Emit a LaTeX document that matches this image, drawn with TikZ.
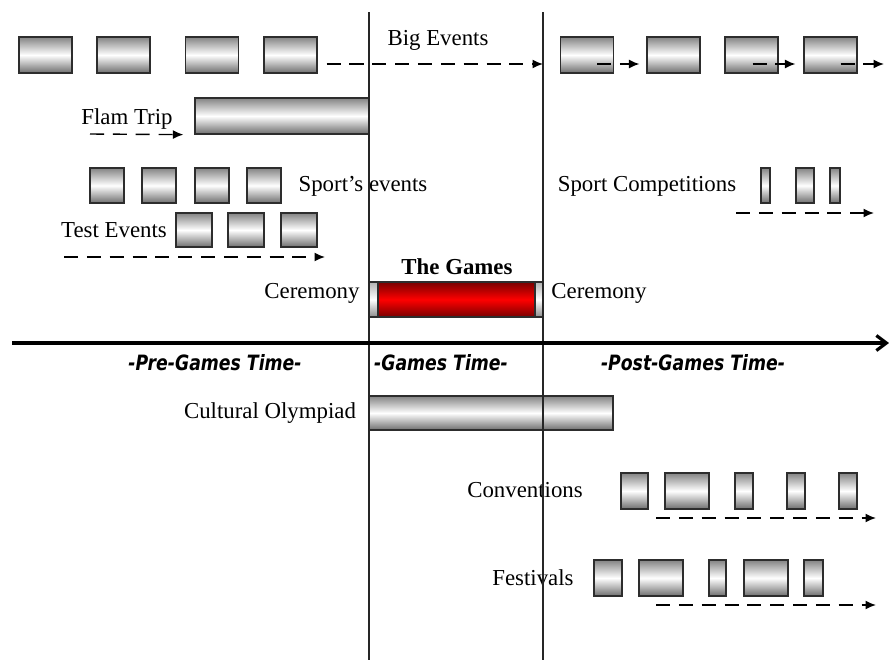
\documentclass[tikz,border=0pt]{standalone}
\usepackage{fontspec}
\setmainfont{Liberation Serif}
\newfontfamily\timefont[FakeStretch=0.82]{DejaVu Sans}
\usetikzlibrary{arrows.meta,calc}
\usepackage{xcolor}
\definecolor{boxEdge}{RGB}{45,45,45}
\definecolor{boxDark}{RGB}{110,110,110}
\definecolor{gameRed}{RGB}{255,0,0}
\definecolor{gameDark}{RGB}{120,0,0}
\newcommand\pxu{0.02cm}
\tikzset{
    every node/.append style={align=center},
    evt/.style={rectangle,draw=boxEdge,line width=0.7pt,inner sep=0pt,
        minimum width=53*\pxu,minimum height=36*\pxu,
        top color=boxDark!85,bottom color=boxDark,middle color=white},
    games/.style={evt,draw=boxEdge,top color=gameDark,bottom color=gameDark,middle color=gameRed},
    lbl/.style={font=\fontsize{13}{15}\selectfont,inner sep=1pt},
    period/.style={font=\timefont\bfseries\itshape\fontsize{12}{14}\selectfont,inner sep=1pt},
    darr/.style={-{Latex[length=2.1mm,width=1.8mm]},line width=0.8pt,dash pattern=on 8pt off 5pt},
    axis/.style={-{Straight Barb[length=2mm,width=3mm]},line width=1.8pt},
    divider/.style={line width=0.8pt,draw=black!85}
}
\begin{document}
\begin{tikzpicture}[x=\pxu,y=-\pxu]
    \useasboundingbox (0,0) rectangle (889,660);
    % period dividers and time axis
    \coordinate (gStartTop) at (369,12);  \coordinate (gStartBot) at (369,660);
    \coordinate (gEndTop)   at (543,12);  \coordinate (gEndBot)   at (543,660);
    \coordinate (axisFrom)  at (12,343);  \coordinate (axisTo)    at (889,343);

    % big events
    \node[evt] (big1) at (45.5,55) {};
    \node[evt] (big2) at (123.5,55) {};
    \node[evt] (big3) at (212,55) {};
    \node[evt] (big4) at (290.5,55) {};
    \node[evt] (big5) at (587,55) {};
    \node[evt] (big6) at (673.5,55) {};
    \node[evt] (big7) at (751.5,55) {};
    \node[evt] (big8) at (830.5,55) {};
    \node[lbl] (bigLbl) at (438,40) {Big Events};
    \coordinate (bigEnd)   at (543,64);
    \coordinate (bigAfter) at (884,64);

    % flam trip
    \node[evt,minimum width=174*\pxu] (flam) at (282,116) {};
    \node[lbl] (flamLbl) at (127,119) {Flam Trip};
    \coordinate (flamFrom) at (90,134);

    % sport's events and test events
    \node[evt,minimum width=34*\pxu,minimum height=35*\pxu] (sp1) at (107,185.5) {};
    \node[evt,minimum width=34*\pxu,minimum height=35*\pxu] (sp2) at (159,185.5) {};
    \node[evt,minimum width=34*\pxu,minimum height=35*\pxu] (sp3) at (212,185.5) {};
    \node[evt,minimum width=34*\pxu,minimum height=35*\pxu] (sp4) at (264,185.5) {};
    \node[lbl] (spLbl) at (363,186) {Sport’s events};
    \node[evt,minimum width=36*\pxu,minimum height=34*\pxu] (test1) at (194,230) {};
    \node[evt,minimum width=36*\pxu,minimum height=34*\pxu] (test2) at (246,230) {};
    \node[evt,minimum width=36*\pxu,minimum height=34*\pxu] (test3) at (299,230) {};
    \node[lbl] (testLbl) at (114,230) {Test Events};
    \coordinate (testFrom) at (64,257);
    \coordinate (testTo)   at (325,257);

    % sport competitions
    \node[evt,minimum width=9*\pxu,minimum height=35*\pxu]  (comp1) at (765.5,185.5) {};
    \node[evt,minimum width=18*\pxu,minimum height=35*\pxu] (comp2) at (805,185.5) {};
    \node[evt,minimum width=10*\pxu,minimum height=35*\pxu] (comp3) at (835,185.5) {};
    \node[lbl] (compLbl) at (647,186) {Sport Competitions};
    \coordinate (compFrom) at (736,213);
    \coordinate (compTo)   at (874,213);

    % the games
    \node[evt,minimum width=9*\pxu,minimum height=35*\pxu,top color=black!30,bottom color=black!45,middle color=white] (openCap) at (373.5,299.5) {};
    \node[games,minimum width=157*\pxu,minimum height=35*\pxu] (games) at (456.5,299.5) {};
    \node[evt,minimum width=8*\pxu,minimum height=35*\pxu,top color=black!30,bottom color=black!45,middle color=white] (closeCap) at (539,299.5) {};
    \node[lbl,font=\bfseries\fontsize{13}{15}\selectfont] (gamesLbl) at (457,267) {The Games};
    \node[lbl] (openLbl)  at (312,293) {Ceremony};
    \node[lbl] (closeLbl) at (599,293) {Ceremony};

    % periods
    \node[period] (preLbl)  at (215,363) {-Pre-Games Time-};
    \node[period] (durLbl)  at (441,363) {-Games Time-};
    \node[period] (postLbl) at (693,363) {-Post-Games Time-};

    % cultural olympiad
    \node[evt,minimum width=244*\pxu,minimum height=34*\pxu] (culture) at (491,413) {};
    \node[lbl] (cultureLbl) at (270,413) {Cultural Olympiad};

    % conventions
    \node[evt,minimum width=27*\pxu] (conv1) at (634.5,491) {};
    \node[evt,minimum width=44*\pxu] (conv2) at (687,491) {};
    \node[evt,minimum width=18*\pxu] (conv3) at (744,491) {};
    \node[evt,minimum width=18*\pxu] (conv4) at (796,491) {};
    \node[evt,minimum width=18*\pxu] (conv5) at (848,491) {};
    \node[lbl] (convLbl) at (525,490) {Conventions};
    \coordinate (convFrom) at (656,518);
    \coordinate (convTo)   at (876,518);

    % festivals
    \node[evt,minimum width=28*\pxu] (fest1) at (608,578) {};
    \node[evt,minimum width=44*\pxu] (fest2) at (661,578) {};
    \node[evt,minimum width=17*\pxu] (fest3) at (717.5,578) {};
    \node[evt,minimum width=44*\pxu] (fest4) at (766,578) {};
    \node[evt,minimum width=19*\pxu] (fest5) at (813.5,578) {};
    \node[lbl] (festLbl) at (533,578) {Festivals};
    \coordinate (festFrom) at (656,605);
    \coordinate (festTo)   at (876,605);

    \draw[divider] (gStartTop) -- (gStartBot);
    \draw[divider] (gEndTop) -- (gEndBot);
    \draw[axis] (axisFrom) -- (axisTo);

    \draw[darr] ($(big4.east)+(9,9)$) -- (bigEnd);
    \draw[darr] ($(big5.east)+(-17,9)$) -- ($(big6.west)+(-7,9)$);
    \draw[darr] ($(big7.east)+(-26,9)$) -- ($(big8.west)+(-8,9)$);
    \draw[darr] ($(big8.east)+(-17,9)$) -- (bigAfter);
    \draw[darr] (flamFrom) -- ($(flam.south west)+(-11,0)$);
    \draw[darr] (testFrom) -- (testTo);
    \draw[darr] (compFrom) -- (compTo);
    \draw[darr] (convFrom) -- (convTo);
    \draw[darr] (festFrom) -- (festTo);
\end{tikzpicture}
\end{document}
